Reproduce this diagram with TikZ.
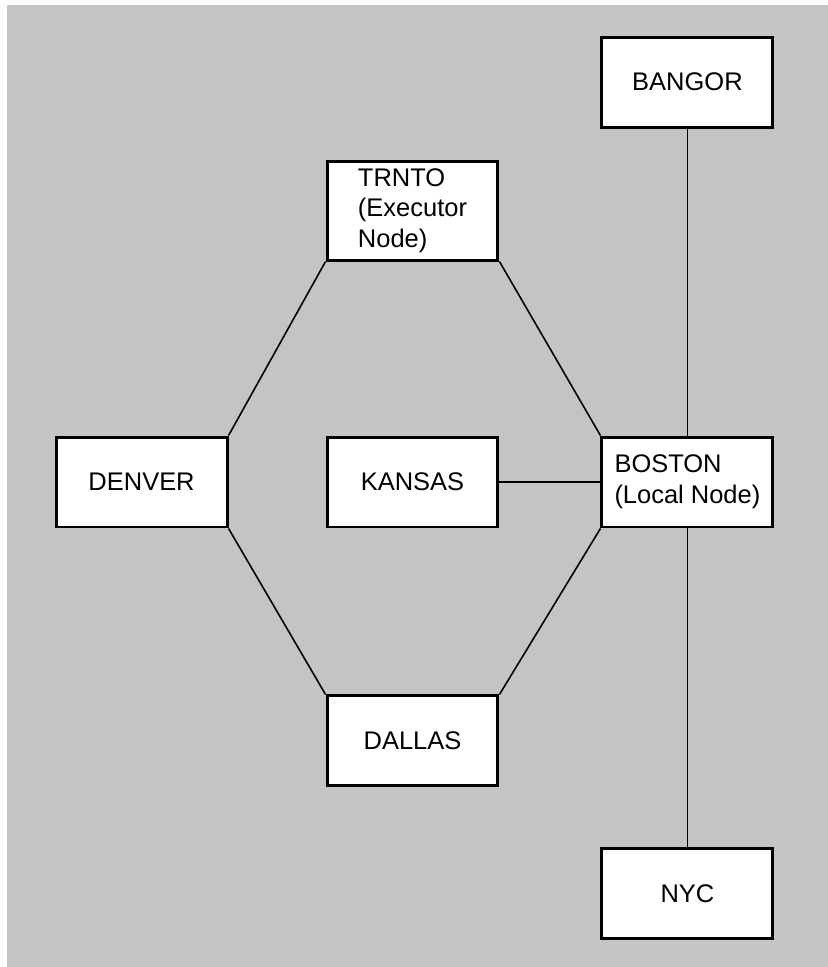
\documentclass[tikz,border=0pt]{standalone}
\usepackage{fontspec}
\setmainfont{Liberation Sans}
\usepackage{tikz}
\usetikzlibrary{positioning}
\definecolor{paper1}{HTML}{C4C4C4}

\begin{document}
\begin{tikzpicture}[
    x=0.02cm, y=-0.02cm,
    site/.style={draw, fill=white, line width=1.7pt, minimum width=3.42cm,
                 minimum height=1.8cm, inner sep=0pt,
                 font=\fontsize{14.5}{17.5}\selectfont},
    sitetwo/.style={site, align=left, minimum height=1.98cm},
    link/.style={line width=0.9pt},
]

% -- page --
\useasboundingbox (0,0) rectangle (828,967);
\fill[paper1] (7,5) rectangle (832,971);

% -- middle row --
\node[site] (kansas) at (412.5,482) {KANSAS};
\node[site, left=1.94cm of kansas] (denver) {DENVER};
\node[sitetwo, minimum height=1.8cm, right=2.02cm of kansas] (boston)
    {BOSTON\\(Local Node)};

% -- top and bottom of the ring --
\node[sitetwo, above=3.48cm of kansas] (trnto)
    {TRNTO\\(Executor\\Node)};
\node[site, below=3.32cm of kansas] (dallas) {DALLAS};

% -- far ends --
\node[site, above=6.14cm of boston] (bangor) {BANGOR};
\node[site, below=6.38cm of boston] (nyc) {NYC};

% -- links --
\draw[link] (trnto.south west) -- (denver.north east);
\draw[link] (trnto.south east) -- (boston.north west);
\draw[link] (denver.south east) -- (dallas.north west);
\draw[link] (dallas.north east) -- (boston.south west);
\draw[link] (kansas.east) -- (boston.west);
\draw[link] (bangor.south) -- (boston.north);
\draw[link] (boston.south) -- (nyc.north);

\end{tikzpicture}
\end{document}
